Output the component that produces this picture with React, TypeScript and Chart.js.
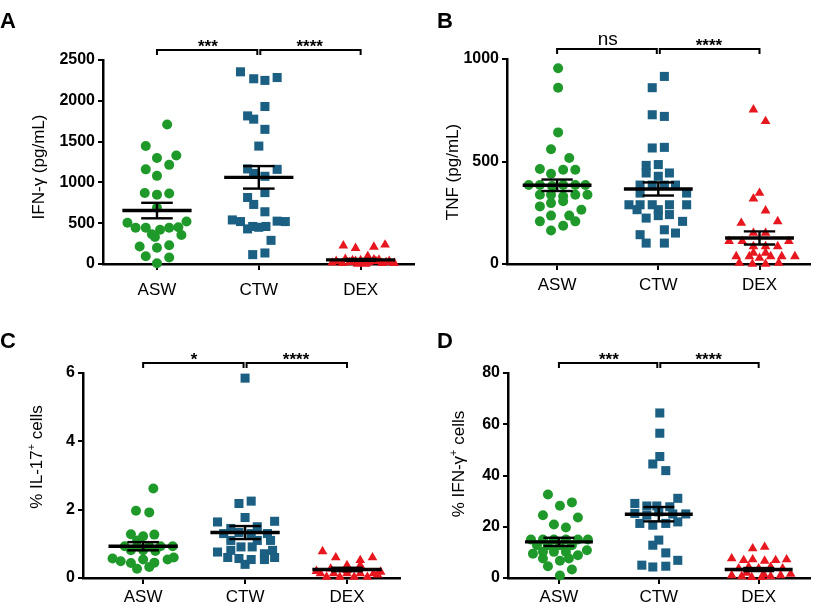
import { useEffect, useRef } from "react";
import { Chart, registerables } from "chart.js";

Chart.register(...registerables);

const FONT = "'Liberation Sans', Arial, Helvetica, sans-serif";

const categories = ["ASW", "CTW", "DEX"];
const groupColors = ["#1f9a2a", "#1b5f83", "#e8161e"];
const groupStyles = ["circle", "rect", "triangle"];
const groupRadii = [5, 6.4, 5.6];

type Pt = [number, number]; // [offset from category centre, value]

// ---------- Panel A: IFN-γ (pg/mL) ----------
const ifngASW: Pt[] = [
  [0.10, 1710], [-0.11, 1445], [0.0, 1300], [0.19, 1330], [0.12, 1215], [-0.11, 1160], [0.0, 1080],
  [-0.12, 870], [0.0, 850], [0.12, 865], [0.0, 690], [-0.29, 505], [0.29, 520], [-0.21, 445],
  [-0.11, 445], [0.03, 420], [0.12, 445], [0.21, 450], [0.24, 355], [-0.05, 365], [-0.02, 330],
  [-0.17, 215], [0.0, 200], [0.12, 230], [-0.11, 95], [0.12, 80], [0.0, 10],
];
const ifngCTW: Pt[] = [
  [-0.18, 2355], [-0.05, 2270], [0.06, 2250], [0.18, 2285], [0.06, 1930], [-0.11, 1815], [-0.05, 1775],
  [0.06, 1650], [0.0, 1445], [-0.11, 1165], [0.18, 1160], [-0.05, 1110], [0.06, 1075], [0.06, 875],
  [-0.11, 815], [-0.05, 730], [0.06, 640], [-0.26, 540], [-0.18, 520], [-0.06, 460], [0.0, 450],
  [0.07, 460], [0.18, 525], [0.26, 520], [-0.11, 430], [0.12, 290], [-0.06, 115], [0.06, 135],
];
const ifngDEX: Pt[] = [
  [-0.17, 225], [-0.05, 195], [0.13, 210], [0.24, 235], [0.07, 95], [-0.24, 35], [-0.18, 10], [-0.11, 20],
  [-0.05, 35], [0.02, 10], [0.08, 20], [0.15, 35], [0.21, 10], [0.28, 35], [0.33, 10], [-0.15, 60],
  [0.13, 55], [-0.03, 0], [0.05, 0], [-0.08, 45], [0.0, 45], [0.18, 50], [-0.28, 15], [0.25, 20],
];
const ifngMean = [655, 1062, 50];
const ifngSem = [95, 138, 12];
const sigA = ["***", "****"];

// ---------- Panel B: TNF (pg/mL) ----------
const tnfASW: Pt[] = [
  [0.01, 955], [0.01, 860], [0.01, 642], [-0.06, 560], [0.12, 517], [-0.17, 463], [-0.06, 440], [0.06, 460],
  [0.18, 460], [-0.28, 385], [-0.17, 385], [-0.05, 380], [0.06, 385], [0.18, 385], [0.28, 385], [-0.17, 338],
  [-0.06, 338], [0.06, 330], [0.18, 338], [0.30, 338], [-0.17, 281], [-0.06, 297], [0.06, 306], [0.24, 265],
  [-0.17, 208], [-0.06, 236], [0.12, 236], [0.18, 208], [-0.06, 163], [0.06, 187],
];
const tnfCTW: Pt[] = [
  [0.06, 915], [-0.06, 860], [-0.06, 728], [0.06, 720], [-0.06, 566], [0.06, 569], [-0.12, 481], [0.0, 485],
  [0.11, 444], [-0.12, 444], [0.0, 428], [-0.18, 385], [-0.06, 385], [0.06, 385], [0.17, 385], [-0.18, 346],
  [0.28, 346], [-0.29, 289], [-0.18, 289], [-0.06, 289], [0.11, 289], [0.28, 289], [-0.21, 265], [0.0, 265],
  [-0.12, 224], [0.0, 236], [0.11, 241], [0.24, 208], [-0.18, 143], [0.06, 167], [0.17, 151], [-0.12, 102],
  [0.06, 102],
];
const tnfDEX: Pt[] = [
  [-0.06, 753], [0.06, 696], [0.0, 346], [-0.06, 319], [0.06, 260], [-0.18, 200], [0.18, 208], [-0.06, 151],
  [0.06, 151], [-0.30, 111], [-0.17, 111], [-0.06, 86], [0.06, 86], [0.18, 86], [0.29, 111], [-0.23, 37],
  [-0.10, 37], [0.0, 29], [0.11, 37], [0.22, 37], [0.35, 37], [-0.20, 5], [-0.07, 0], [0.06, 0], [0.19, 5],
  [-0.06, 54], [0.06, 54],
];
const tnfMean = [384, 366, 127];
const tnfSem = [28, 32, 32];
const sigB = ["ns", "****"];

// ---------- Panel C: % IL-17+ cells ----------
const il17ASW: Pt[] = [
  [0.10, 2.62], [-0.07, 1.97], [0.06, 1.92], [-0.12, 1.28], [0.0, 1.22], [0.11, 1.27], [-0.06, 1.10],
  [-0.18, 0.93], [-0.06, 0.93], [0.06, 0.93], [0.17, 0.93], [0.29, 0.93], [0.0, 0.81], [-0.12, 0.81],
  [0.12, 0.79], [-0.30, 0.57], [-0.22, 0.49], [-0.12, 0.44], [0.0, 0.54], [0.11, 0.45], [0.24, 0.54],
  [0.30, 0.60], [-0.06, 0.27], [0.06, 0.32],
];
const il17CTW: Pt[] = [
  [0.0, 5.85], [-0.06, 2.18], [0.06, 2.25], [0.0, 1.77], [-0.27, 1.64], [0.29, 1.66], [-0.14, 1.45],
  [0.12, 1.50], [-0.21, 1.30], [-0.06, 1.33], [0.06, 1.30], [0.22, 1.30], [-0.14, 1.10], [0.12, 1.10],
  [0.25, 1.10], [-0.04, 0.91], [0.07, 0.91], [-0.27, 0.76], [-0.14, 0.81], [0.19, 0.71], [0.27, 0.81],
  [-0.17, 0.60], [-0.06, 0.57], [0.06, 0.54], [0.19, 0.54], [0.29, 0.60], [0.0, 0.40],
];
const il17DEX: Pt[] = [
  [-0.24, 0.78], [-0.11, 0.60], [0.13, 0.52], [0.25, 0.60], [0.0, 0.37], [0.13, 0.37], [-0.16, 0.27],
  [-0.26, 0.13], [-0.13, 0.13], [0.0, 0.13], [0.13, 0.13], [0.26, 0.13], [0.33, 0.18], [-0.20, 0.03],
  [-0.07, 0.03], [0.07, 0.03], [0.20, 0.03], [-0.30, 0.20], [0.30, 0.10], [0.0, 0.22],
];
const il17Mean = [0.93, 1.33, 0.25];
const il17Sem = [0.12, 0.19, 0.05];
const sigC = ["*", "****"];

// ---------- Panel D: % IFN-γ+ cells ----------
const ifnpASW: Pt[] = [
  [-0.11, 32.6], [0.01, 28.2], [0.13, 29.5], [-0.16, 24.5], [0.19, 23.6], [-0.05, 20.9], [0.07, 19.7],
  [-0.28, 15], [-0.16, 15], [-0.05, 15], [0.07, 15], [0.19, 15], [0.29, 15], [-0.22, 12.8], [-0.11, 12.8],
  [0.01, 12.8], [0.13, 12.8], [-0.26, 9.5], [-0.16, 10.2], [-0.05, 10.2], [0.07, 10.2], [0.19, 8.9],
  [0.28, 10.8], [-0.16, 7.6], [0.01, 6.7], [0.10, 7.6], [-0.11, 4.6], [0.13, 3.3], [0.01, 1.0],
];
const ifnpCTW: Pt[] = [
  [0.01, 64.4], [0.01, 56.5], [0.01, 47.4], [-0.06, 44.5], [0.07, 41.9], [-0.24, 29.1], [-0.12, 28.1],
  [-0.02, 28.1], [0.11, 27.8], [0.19, 31.1], [-0.24, 25.2], [-0.12, 24.5], [0.0, 25.8], [0.14, 25.0],
  [0.27, 25.0], [-0.19, 21.3], [-0.06, 20.6], [0.07, 21.3], [0.19, 21.9], [0.0, 14.8], [-0.06, 12.8],
  [0.07, 9.8], [-0.17, 5.0], [-0.06, 4.3], [0.07, 4.6], [0.19, 6.9],
];
const ifnpDEX: Pt[] = [
  [-0.06, 11.5], [0.06, 12.1], [-0.27, 7.6], [-0.15, 6.9], [-0.06, 7.2], [0.06, 6.7], [0.17, 6.9],
  [0.28, 7.2], [-0.20, 3.7], [-0.10, 4.3], [0.0, 3.7], [0.12, 4.3], [0.24, 3.7], [-0.27, 1.0], [-0.17, 0.6],
  [-0.07, 0.3], [0.03, 0.3], [0.12, 0.6], [0.22, 1.0], [0.32, 1.6], [-0.12, 2.0], [0.05, 1.5],
];
const ifnpMean = [14.1, 24.9, 3.3];
const ifnpSem = [1.6, 2.8, 0.6];
const sigD = ["***", "****"];

type Seg = { t: string; sup?: boolean };

const panels = [
  {
    letter: "A", letterPos: [0, 28],
    title: [{ t: "IFN-γ (pg/mL)" }] as Seg[], titlePos: [39, 167],
    groups: [ifngASW, ifngCTW, ifngDEX], mean: ifngMean, sem: ifngSem, sig: sigA,
    yMax: 2500, yStep: 500,
    canvas: { x: 0, y: 0, w: 420, h: 306 },
    area: { l: 103, t: 60, r: 415, b: 264 },
    xMin: 0.47, xMax: 3.52, labelPad: 10,
  },
  {
    letter: "B", letterPos: [437, 28],
    title: [{ t: "TNF (pg/mL)" }] as Seg[], titlePos: [453, 172],
    groups: [tnfASW, tnfCTW, tnfDEX], mean: tnfMean, sem: tnfSem, sig: sigB,
    yMax: 1000, yStep: 500,
    canvas: { x: 420, y: 0, w: 396, h: 306 },
    area: { l: 507, t: 59, r: 815, b: 264 },
    xMin: 0.505, xMax: 3.495, labelPad: 5,
  },
  {
    letter: "C", letterPos: [0, 348],
    title: [{ t: "% IL-17" }, { t: "+", sup: true }, { t: " cells" }] as Seg[], titlePos: [37, 457],
    groups: [il17ASW, il17CTW, il17DEX], mean: il17Mean, sem: il17Sem, sig: sigC,
    yMax: 6, yStep: 2,
    canvas: { x: 0, y: 306, w: 420, h: 306 },
    area: { l: 83, t: 373, r: 400, b: 578 },
    xMin: 0.41, xMax: 3.52, labelPad: 3,
  },
  {
    letter: "D", letterPos: [437, 348],
    title: [{ t: "% IFN-γ" }, { t: "+", sup: true }, { t: " cells" }] as Seg[], titlePos: [459, 464],
    groups: [ifnpASW, ifnpCTW, ifnpDEX], mean: ifnpMean, sem: ifnpSem, sig: sigD,
    yMax: 80, yStep: 20,
    canvas: { x: 420, y: 306, w: 396, h: 306 },
    area: { l: 508, t: 373, r: 816, b: 578 },
    xMin: 0.49, xMax: 3.51, labelPad: 3,
  },
];

type PanelCfg = (typeof panels)[number];

function Panel({ cfg }: { cfg: PanelCfg }) {
  const ref = useRef<HTMLCanvasElement>(null);

  useEffect(() => {
    if (!ref.current) return;
    const c = cfg;
    const overlay = {
      id: "overlay",
      afterDatasetsDraw(chart: any) {
        const ctx: CanvasRenderingContext2D = chart.ctx;
        const xs = chart.scales.x;
        const ys = chart.scales.y;
        const X = (v: number) => xs.getPixelForValue(v);
        const Y = (v: number) => ys.getPixelForValue(v);
        const seg = (x1: number, y1: number, x2: number, y2: number) => {
          ctx.beginPath();
          ctx.moveTo(x1, y1);
          ctx.lineTo(x2, y2);
          ctx.stroke();
        };
        ctx.save();
        ctx.strokeStyle = "#000";
        ctx.lineCap = "butt";
        // mean ± SEM
        c.mean.forEach((m, i) => {
          const cx = i + 1;
          const s = c.sem[i];
          ctx.lineWidth = 3.4;
          seg(X(cx - 0.34), Y(m), X(cx + 0.34), Y(m));
          ctx.lineWidth = 2.4;
          const top = Y(m + s);
          const bot = Y(m - s);
          seg(X(cx), top, X(cx), bot);
          seg(X(cx - 0.155), top, X(cx + 0.155), top);
          seg(X(cx - 0.155), bot, X(cx + 0.155), bot);
        });
        // significance brackets
        const by = chart.chartArea.top - 10;
        ctx.lineWidth = 2;
        const bracket = (xa: number, xb: number) => {
          ctx.beginPath();
          ctx.moveTo(xa, by + 5);
          ctx.lineTo(xa, by);
          ctx.lineTo(xb, by);
          ctx.lineTo(xb, by + 5);
          ctx.stroke();
        };
        const x1 = X(1), x2 = X(2), x3 = X(3);
        bracket(x1, x2 - 1.5);
        bracket(x2 + 1.5, x3);
        ctx.fillStyle = "#000";
        ctx.textAlign = "center";
        ctx.textBaseline = "alphabetic";
        [[x1, x2], [x2, x3]].forEach(([a, b], i) => {
          const label = c.sig[i];
          if (label === "ns") {
            ctx.font = `19px ${FONT}`;
            ctx.fillText(label, (a + b) / 2, by - 4);
          } else {
            ctx.font = `bold 17px ${FONT}`;
            ctx.fillText(label, (a + b) / 2, by + 2);
          }
        });
        // y axis title
        ctx.save();
        ctx.translate(c.titlePos[0] - c.canvas.x, c.titlePos[1] - c.canvas.y);
        ctx.rotate(-Math.PI / 2);
        ctx.textAlign = "left";
        ctx.textBaseline = "middle";
        const mainF = `17px ${FONT}`;
        const supF = `11px ${FONT}`;
        let total = 0;
        c.title.forEach((s) => {
          ctx.font = s.sup ? supF : mainF;
          total += ctx.measureText(s.t).width;
        });
        let tx = -total / 2;
        c.title.forEach((s) => {
          ctx.font = s.sup ? supF : mainF;
          ctx.fillText(s.t, tx, s.sup ? -5 : 0);
          tx += ctx.measureText(s.t).width;
        });
        ctx.restore();
        // panel letter
        ctx.font = `bold 22px ${FONT}`;
        ctx.textAlign = "left";
        ctx.textBaseline = "alphabetic";
        ctx.fillText(c.letter, c.letterPos[0] - c.canvas.x, c.letterPos[1] - c.canvas.y);
        ctx.restore();
      },
    };

    const datasets = c.groups.map((g, i) => ({
      label: categories[i],
      data: g.map(([dx, v]) => ({ x: i + 1 + dx, y: v })),
      pointStyle: groupStyles[i] as any,
      pointRadius: groupRadii[i],
      pointBackgroundColor: groupColors[i],
      backgroundColor: groupColors[i],
      pointBorderWidth: 0,
      borderWidth: 0,
      showLine: false,
      clip: false as any,
    }));

    const chart = new Chart(ref.current, {
      type: "scatter",
      data: { datasets },
      options: {
        responsive: false,
        animation: false,
        devicePixelRatio: 1,
        events: [],
        layout: {
          padding: {
            left: 0,
            top: c.area.t - c.canvas.y,
            right: c.canvas.x + c.canvas.w - c.area.r,
            bottom: 0,
          },
        },
        plugins: { legend: { display: false }, tooltip: { enabled: false } },
        scales: {
          x: {
            type: "linear",
            min: c.xMin,
            max: c.xMax,
            afterBuildTicks: (s: any) => {
              s.ticks = categories.map((_, i) => ({ value: i + 1 }));
            },
            afterFit: (s: any) => {
              s.height = c.canvas.y + c.canvas.h - c.area.b;
            },
            ticks: {
              callback: (v: any) => categories[Math.round(Number(v)) - 1] ?? "",
              font: { size: 17, family: FONT },
              color: "#000",
              padding: c.labelPad,
              autoSkip: false,
              maxRotation: 0,
            },
            grid: { drawOnChartArea: false, drawTicks: true, tickLength: 6, color: "#000", lineWidth: 2 },
            border: { color: "#000", width: 2.5 },
          },
          y: {
            type: "linear",
            min: 0,
            max: c.yMax,
            afterFit: (s: any) => {
              s.width = c.area.l - c.canvas.x;
            },
            ticks: {
              stepSize: c.yStep,
              callback: (v: any) => String(v),
              font: { size: 16, weight: "bold", family: FONT },
              color: "#000",
              padding: 3,
            },
            grid: { drawOnChartArea: false, drawTicks: true, tickLength: 5, color: "#000", lineWidth: 2 },
            border: { color: "#000", width: 2.5 },
          },
        },
      } as any,
      plugins: [overlay],
    });
    return () => chart.destroy();
  }, [cfg]);

  return (
    <canvas
      ref={ref}
      width={cfg.canvas.w}
      height={cfg.canvas.h}
      style={{
        position: "absolute",
        left: cfg.canvas.x,
        top: cfg.canvas.y,
        width: cfg.canvas.w,
        height: cfg.canvas.h,
      }}
    />
  );
}

export default function App() {
  return (
    <div style={{ position: "fixed", left: 0, top: 0, width: 816, height: 612, background: "#fff" }}>
      {panels.map((p) => (
        <Panel key={p.letter} cfg={p} />
      ))}
    </div>
  );
}
